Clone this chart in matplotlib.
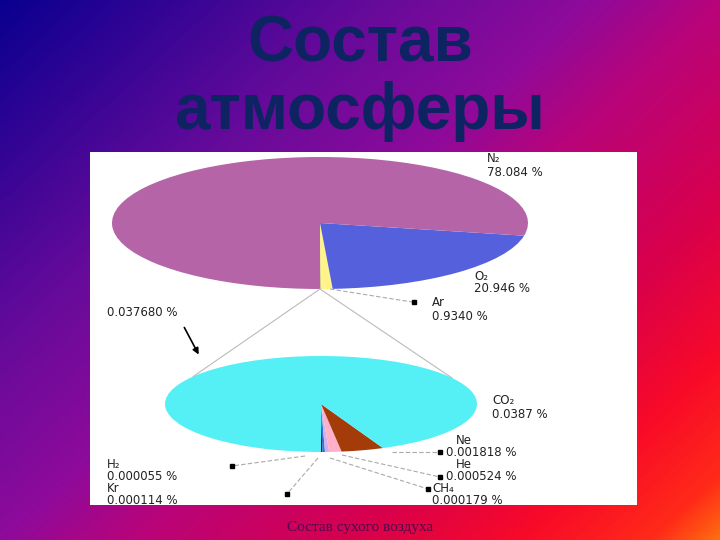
import numpy as np
import matplotlib
matplotlib.use('Agg')
import matplotlib.pyplot as plt
from matplotlib.colors import LinearSegmentedColormap

#%% data
top_names = ['N₂', 'O₂', 'Ar']
top_values = [78.084, 20.946, 0.9340]
top_pct = ['78.084 %', '20.946 %', '0.9340 %']
rest_value = 0.037680
rest_pct = '0.037680 %'

bottom_names = ['CO₂', 'Ne', 'He', 'CH₄', 'Kr', 'H₂']
bottom_values = [0.0387, 0.001818, 0.000524, 0.000179, 0.000114, 0.000055]
bottom_pct = ['0.0387 %', '0.001818 %', '0.000524 %', '0.000179 %', '0.000114 %', '0.000055 %']

title = 'Состав\nатмосферы'
caption = 'Состав сухого воздуха'

#%% colours / layout (pixels of a 720x540 canvas)
W, H = 720, 540
top_colors = {'rest': '#2A2A2A', 'Ar': '#FFF38A', 'O₂': '#5560DD', 'N₂': '#B565A7'}
bot_colors = {'H₂': '#1A1A70', 'Kr': '#3A70D0', 'CH₄': '#D0B0F0', 'He': '#FFB0C8',
              'Ne': '#A33C08', 'CO₂': '#55EFF6'}
top_c, top_r = (320, 223), (208, 66)
bot_c, bot_r = (321, 404), (156, 48)

fig = plt.figure(figsize=(7.2, 5.4), dpi=100)

# gradient background
bg = fig.add_axes([0, 0, 1, 1])
bg.set_axis_off()
cmap = LinearSegmentedColormap.from_list('bg', [
    (0.0, '#0A0090'), (0.28, '#640A9A'), (0.45, '#8E0A9A'), (0.55, '#B8047A'),
    (0.72, '#D8004C'), (0.85, '#F80A28'), (0.95, '#FF2A18'), (1.0, '#FF6A10')])
xx, yy = np.meshgrid(np.linspace(0, 1, 240), np.linspace(0, 1, 180))
bg.imshow(0.55 * xx + 0.45 * yy, cmap=cmap, aspect='auto', extent=(0, W, H, 0),
          interpolation='bilinear')
bg.set_xlim(0, W)
bg.set_ylim(H, 0)

# white panel
panel = fig.add_axes([90 / W, (H - 505) / H, (637 - 90) / W, (505 - 152) / H])
panel.set_facecolor('white')
panel.set_xticks([])
panel.set_yticks([])
for s in panel.spines.values():
    s.set_visible(False)


def pie_axes(c, r):
    return fig.add_axes([(c[0] - r[0]) / W, (H - c[1] - r[1]) / H, 2 * r[0] / W, 2 * r[1] / H])


# upper pie (counter-clockwise from the bottom)
ax1 = pie_axes(top_c, top_r)
order1 = ['rest', 'Ar', 'O₂', 'N₂']
vals1 = [rest_value] + top_values[::-1]
ax1.pie(vals1, colors=[top_colors[k] for k in order1], startangle=-90,
        counterclock=True, wedgeprops=dict(linewidth=0))
ax1.set_aspect('auto')
ax1.set_xlim(-1, 1)
ax1.set_ylim(-1, 1)

# lower pie
ax2 = pie_axes(bot_c, bot_r)
order2 = bottom_names[::-1]
vals2 = bottom_values[::-1]
ax2.pie(vals2, colors=[bot_colors[k] for k in order2], startangle=-90,
        counterclock=True, wedgeprops=dict(linewidth=0))
ax2.set_aspect('auto')
ax2.set_xlim(-1, 1)
ax2.set_ylim(-1, 1)

# overlay for labels and leader lines
ov = fig.add_axes([0, 0, 1, 1])
ov.set_axis_off()
ov.patch.set_alpha(0)
ov.set_xlim(0, W)
ov.set_ylim(H, 0)

# connectors between the two pies
tip = (top_c[0], top_c[1] + top_r[1])
for ang in (145, 33):
    a = np.deg2rad(ang)
    ex, ey = bot_c[0] + bot_r[0] * np.cos(a), bot_c[1] - bot_r[1] * np.sin(a)
    ov.plot([tip[0], ex], [tip[1], ey], color='#BBBBBB', lw=0.8)

txt = dict(fontsize=8.5, color='#222222', family=['DejaVu Sans'], va='center', ha='left')

# label positions: (x, name y, value y)
top_pos = {'N₂': (487, 159, 173), 'O₂': (474, 276, 289), 'Ar': (432, 303, 317)}
for name, pct in zip(top_names, top_pct):
    x, y1, y2 = top_pos[name]
    ov.text(x, y1, name, **txt)
    ov.text(x, y2, pct, **txt)

# Ar leader
ov.plot([330, 412], [289, 302], color='#AAAAAA', lw=0.8, ls=(0, (4, 2)))
ov.plot([414], [302], marker='s', ms=2.5, color='black')

# rest label with arrow
ov.text(107, 312, rest_pct, **txt)
ov.annotate('', xy=(200, 357), xytext=(183, 325),
            arrowprops=dict(arrowstyle='-|>', color='black', lw=1.2, mutation_scale=9))

bot_pos = {
    'CO₂': (492, 400, 414, None, None),
    'Ne': (456, 440, 452, (440, 452), (392, 452)),
    'He': (456, 465, 477, (440, 477), (342, 455)),
    'CH₄': (432, 489, 501, (428, 489), (330, 458)),
    'H₂': (107, 465, 477, (232, 466), (305, 456)),
    'Kr': (107, 489, 501, (287, 494), (318, 458)),
}
for name, pct in zip(bottom_names, bottom_pct):
    x, y1, y2, dot, start = bot_pos[name]
    ov.text(x, y1, name, **txt)
    vx = 446 if name in ('Ne', 'He') else x
    ov.text(vx, y2, pct, **txt)
    if dot is not None:
        ov.plot([start[0], dot[0]], [start[1], dot[1]], color='#AAAAAA', lw=0.8, ls=(0, (4, 2)))
        ov.plot([dot[0]], [dot[1]], marker='s', ms=2.5, color='black')

# title and caption
lines = title.split('\n')
ov.text(360, 62, lines[0], ha='center', va='baseline', fontsize=46, fontweight='bold',
        family=['Liberation Sans', 'DejaVu Sans'], color='#0E2462')
ov.text(360, 129, lines[1], ha='center', va='baseline', fontsize=46, fontweight='bold',
        family=['Liberation Sans', 'DejaVu Sans'], color='#0E2462')
ov.text(360, 527, caption, ha='center', va='center', fontsize=11,
        family=['Liberation Serif', 'DejaVu Serif'], color='#4A0A50')

fig.savefig('out.png', dpi=100)
